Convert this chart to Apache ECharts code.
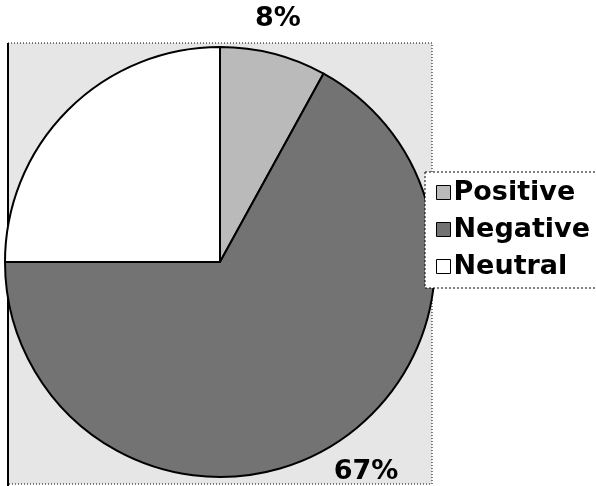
<!DOCTYPE html>
<html><head><meta charset="utf-8">
<script src="https://cdn.jsdelivr.net/npm/echarts@6/dist/echarts.min.js"></script>
<style>html,body{margin:0;padding:0;background:#fff}#c{width:596px;height:486px}</style>
</head><body><div id="c"></div>
<script>
const categories = ['Positive', 'Negative', 'Neutral'];
const values = [8, 67, 25];
const sliceColors = ['#bababa', '#737373', '#ffffff'];
const labelPos = [[278, 19], [366, 472], [34, 80]];

const chart = echarts.init(document.getElementById('c'));
chart.setOption({
  animation: false,
  backgroundColor: '#fff',
  graphic: [
    { type: 'rect', z: -10, shape: { x: 8, y: 43, width: 424, height: 441 },
      style: { fill: '#e6e6e6', stroke: '#000', lineWidth: 1, lineDash: [1, 2] } },
    { type: 'line', z: -9, shape: { x1: 8, y1: 43, x2: 8, y2: 486 }, style: { stroke: '#000', lineWidth: 2 } }
  ],
  legend: {
    orient: 'vertical',
    left: 425, top: 172,
    width: 200,
    padding: [7, 40, 8, 11],
    itemGap: 10,
    itemWidth: 14, itemHeight: 14,
    icon: 'rect',
    borderColor: '#000', borderWidth: 1, borderType: [2, 2],
    backgroundColor: '#fff',
    textStyle: { fontFamily: 'DejaVu Sans', fontWeight: 'bold', fontSize: 27, color: '#000', padding: [0, 0, 0, -2] },
    itemStyle: { borderColor: '#000', borderWidth: 1 },
    data: categories
  },
  series: [{
    type: 'pie',
    center: [220, 262],
    radius: 215,
    startAngle: 90,
    clockwise: true,
    silent: true,
    itemStyle: { borderColor: '#000', borderWidth: 2 },
    label: {
      show: true,
      formatter: '{d}%',
      fontFamily: 'DejaVu Sans', fontWeight: 'bold', fontSize: 27, color: '#000'
    },
    labelLine: { show: false },
    labelLayout: function (p) {
      const pos = labelPos[p.dataIndex];
      return { x: pos[0], y: pos[1], align: 'center', verticalAlign: 'middle' };
    },
    data: categories.map((n, i) => ({ name: n, value: values[i], itemStyle: { color: sliceColors[i] } }))
  }]
});
</script></body></html>
